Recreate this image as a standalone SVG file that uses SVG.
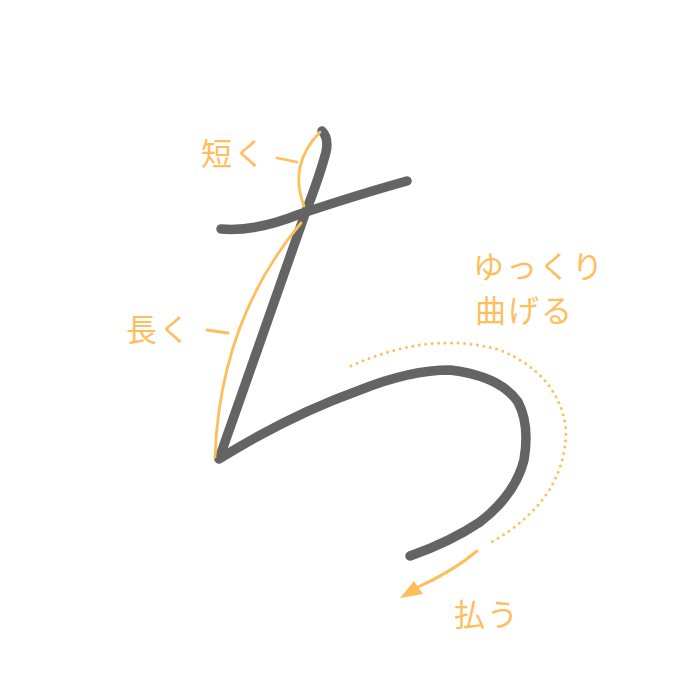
<svg xmlns="http://www.w3.org/2000/svg" width="700" height="700" viewBox="0 0 700 700">
<style>
.brush{fill:none;stroke:#646464;stroke-width:9.5;stroke-linecap:round;stroke-linejoin:round}
.note{fill:none;stroke:#FFBE5C;stroke-width:2.8;stroke-linecap:round}
.dots{fill:none;stroke:#FFBE5C;stroke-width:3;stroke-linecap:round;stroke-dasharray:0 6.5}
.lbl{font-family:"Noto Sans CJK JP","Noto Sans CJK SC",sans-serif;font-size:31px;letter-spacing:2px;fill:#FFBE5C}
</style>
<rect width="700" height="700" fill="#ffffff"/>
<g id="strokes">
<path class="brush" d="M221,229 Q255,232 300,214 Q360,194 407,181"/>
<path class="brush" d="M322,131 Q329,138 326,152 Q320,175 305,214 L219,459 Q290,415 360,390 Q410,370 450,370 Q500,376 518,402 Q530,425 524,460 Q515,495 480,522 Q450,542 410,556"/>
</g>
<g id="annotations">
<path class="note" d="M320,132 Q288,165 304,206"/>
<path class="note" d="M277,158 L297,162"/>
<path class="note" d="M301,223 Q220,320 215,457"/>
<path class="note" d="M207,330 L228,333"/>
<path class="dots" d="M351,366 Q430,330 500,350 Q560,375 566,430 Q566,500 490,543"/>
<path class="note" style="stroke-width:3" d="M477,551 Q452,572 416,588"/>
<polygon points="400,598 414,581 423,594" fill="#FFBE5C"/>
</g>
<g id="labels">
<text class="lbl" x="201" y="165">短く</text>
<text class="lbl" x="126" y="341">長く</text>
<text class="lbl" x="473" y="278">ゆっくり</text>
<text class="lbl" x="475" y="322">曲げる</text>
<text class="lbl" x="454" y="626">払う</text>
</g>
</svg>
